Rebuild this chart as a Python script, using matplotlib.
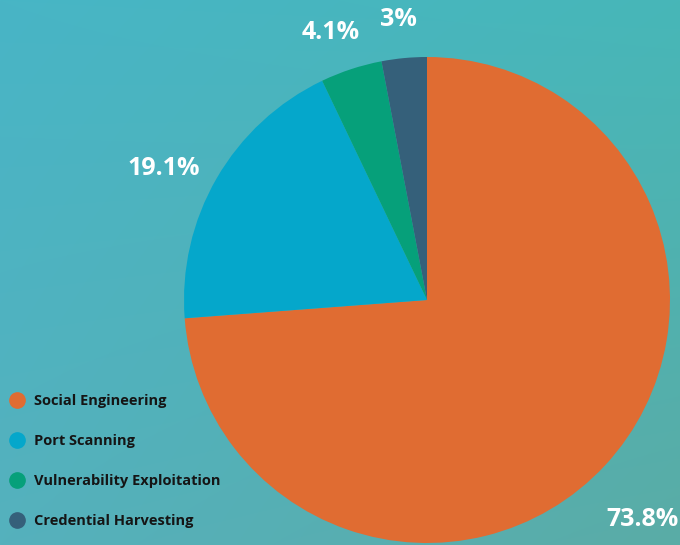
import matplotlib
matplotlib.use("Agg")
import matplotlib.pyplot as plt
import numpy as np
from matplotlib.colors import to_rgb
from matplotlib.lines import Line2D

categories = ["Social Engineering", "Port Scanning", "Vulnerability Exploitation", "Credential Harvesting"]
values = [73.8, 19.1, 4.1, 3.0]
labels = ["73.8%", "19.1%", "4.1%", "3%"]
colors = ["#E06C32", "#05A7CB", "#06A07A", "#35607A"]
label_dist = [1.265, 1.21, 1.17, 1.16]
label_shift = [-2.7, 3.4, 1.6, 0.5]  # degrees

W, H = 680, 545
fig = plt.figure(figsize=(W / 100, H / 100), dpi=100)

# background gradient
bg = fig.add_axes([0, 0, 1, 1])
bg.set_axis_off()
tl, tr = np.array(to_rgb("#48B5C6")), np.array(to_rgb("#47B7B8"))
bl, br = np.array(to_rgb("#55B1BD")), np.array(to_rgb("#5AACA6"))
u = np.linspace(0, 1, W)[None, :, None]
v = np.linspace(0, 1, H)[:, None, None]
img = (1 - v) * ((1 - u) * tl + u * tr) + v * ((1 - u) * bl + u * br)
bg.imshow(img, aspect="auto", extent=[0, 1, 0, 1])

ax = fig.add_axes([0, 0, 1, 1])
ax.set_axis_off()
cx, cy, R = 427, 300, 243

wedges, _ = ax.pie(values, colors=colors, startangle=90, counterclock=False,
                   radius=R, wedgeprops=dict(linewidth=0))
ax.set_xlim(-cx, W - cx)
ax.set_ylim(-(H - cy), cy)
ax.set_aspect("equal")
for w, lab, d, s in zip(wedges, labels, label_dist, label_shift):
    ang = np.deg2rad((w.theta1 + w.theta2) / 2 + s)
    ax.text(R * d * np.cos(ang), R * d * np.sin(ang), lab, ha="center", va="center",
            color="white", fontsize=18, fontweight="bold", family="Open Sans")

handles = [Line2D([], [], marker="o", linestyle="none", markersize=11,
                  markerfacecolor=c, markeredgecolor=c) for c in colors]
leg = fig.legend(handles, categories, loc="upper left", bbox_to_anchor=(-0.005, 0.295),
                 frameon=False, handletextpad=0.45, labelspacing=1.78, handlelength=1.4,
                 borderaxespad=0.3,
                 prop=dict(family="Open Sans", weight="bold", size=10.5))
for t in leg.get_texts():
    t.set_color("#151515")

fig.savefig("out.png", dpi=100)
